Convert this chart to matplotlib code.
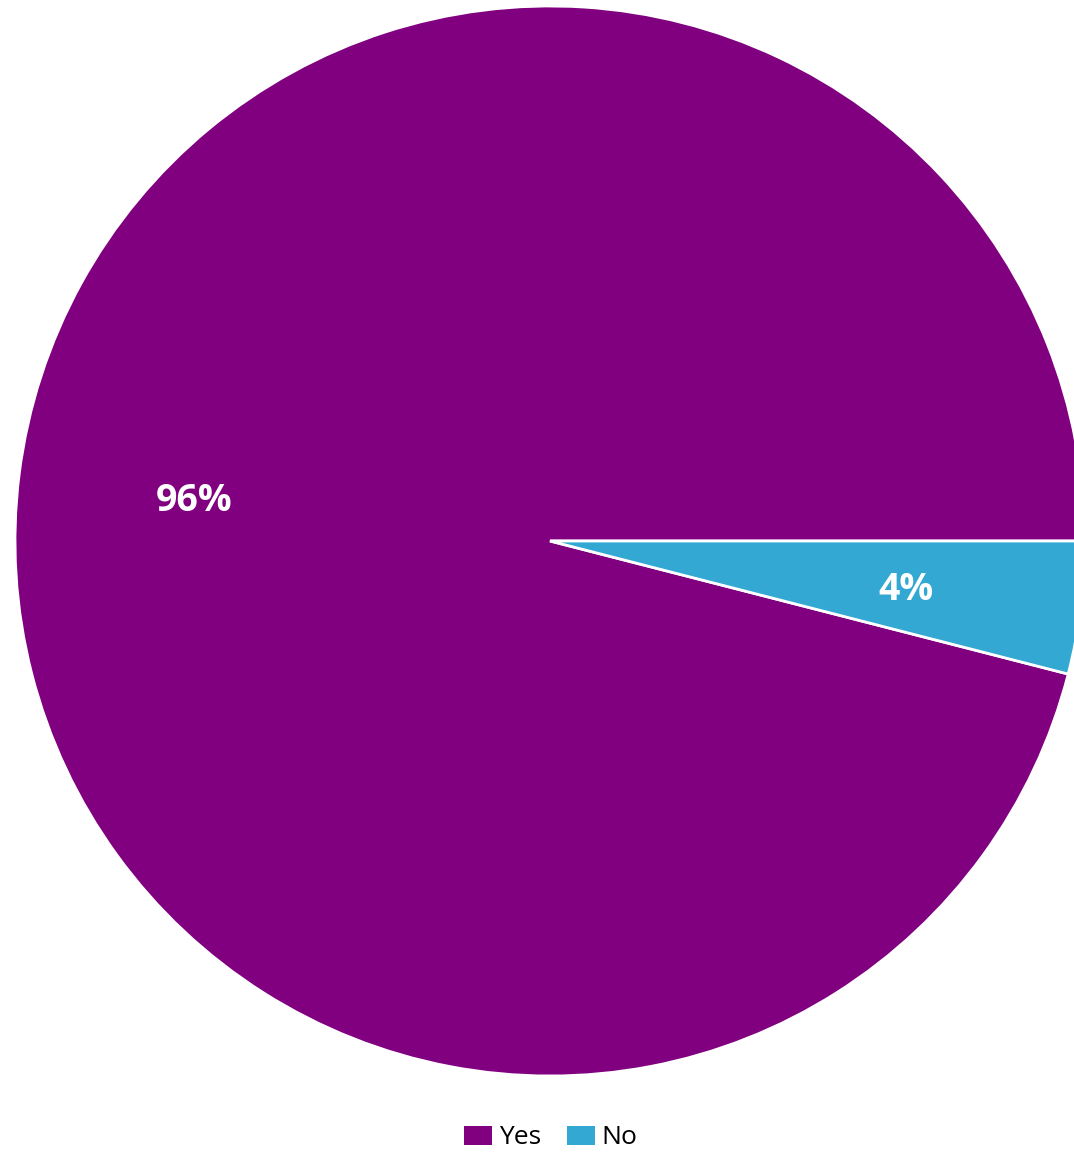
import matplotlib.pyplot as plt
from matplotlib.patches import Patch

labels = ['Yes', 'No']
values = [96, 4]
colors = ['#800080', '#33A8D3']

W, H = 1074, 1152
cx, cy, r = 550, 541, 535

fig = plt.figure(figsize=(W / 100, H / 100), dpi=100)
ax = fig.add_axes([0, 0, 1, 1])

wedges, texts, autotexts = ax.pie(
    values, colors=colors, startangle=0, counterclock=True,
    autopct='%1.0f%%', pctdistance=0.67,
    wedgeprops=dict(edgecolor='white', linewidth=2),
    textprops=dict(color='white', fontsize=27, fontweight='bold', family='Open Sans'))
for t in autotexts:
    t.set_va('center_baseline')

ax.set_xlim(-cx / r, (W - cx) / r)
ax.set_ylim((cy - H) / r, cy / r)
ax.set_aspect('auto')
ax.axis('off')

handles = [Patch(facecolor=c, edgecolor='none') for c in colors]
fig.legend(handles, labels, loc='center', bbox_to_anchor=(0.513, 1 - 1138 / H),
           ncol=2, frameon=False, prop=dict(family='Open Sans', size=19),
           handlelength=1.05, handleheight=0.7, handletextpad=0.25,
           columnspacing=1.0, borderpad=0)

fig.savefig('out.png', dpi=100)
